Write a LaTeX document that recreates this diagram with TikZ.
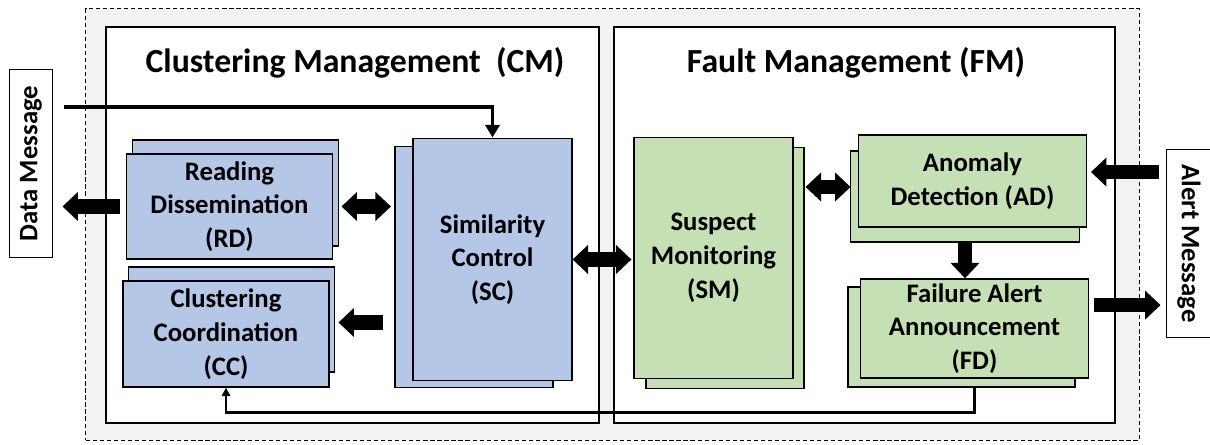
\documentclass[tikz,border=0pt]{standalone}
\usepackage{fontspec}
\setmainfont{Carlito}
\usetikzlibrary{arrows.meta}
\definecolor{cmfill}{HTML}{B4C7E7}
\definecolor{fmfill}{HTML}{C5E0B4}
\definecolor{bggray}{HTML}{F2F2F2}
\def\px{0.7087pt}
\begin{document}
\begin{tikzpicture}[x=0.025cm,y=-0.025cm,
    frame/.style={draw,line width=1.3pt,fill=white},
    card/.style={draw,line width=1.2pt,align=center,inner sep=0pt,font=\fontsize{19}{24}\selectfont\bfseries},
    cmcard/.style={card,fill=cmfill},
    fmcard/.style={card,fill=fmfill},
    title/.style={font=\fontsize{24}{28}\selectfont\bfseries},
    msg/.style={draw,line width=0.8pt,fill=white,inner sep=0pt,minimum width=44*\px,minimum height=189*\px,font=\fontsize{19}{23}\selectfont\bfseries},
    fat/.style={line width=10pt,-{Triangle[length=11pt,width=20pt]}},
    fatboth/.style={line width=10pt,{Triangle[length=11pt,width=20pt]}-{Triangle[length=11pt,width=20pt]}},
    datain/.style={line width=2.8pt,-{Triangle[length=9pt,width=10pt]}},
    feedback/.style={line width=1.8pt,-{Triangle[length=6pt,width=6pt]}}]
\useasboundingbox (0,0) rectangle (1210,445);

% frames
\node[draw,dashed,dash pattern=on 3pt off 2pt,line width=0.7pt,fill=bggray,minimum width=1057*\px,minimum height=433*\px] (all) at (612.5,224.5) {};
\node[frame,minimum width=495*\px,minimum height=398*\px] (cm) at (352.5,225) {};
\node[frame,minimum width=503*\px,minimum height=398*\px] (fm) at (864.5,225) {};
\node[title] (cmtitle) at (355,63) {Clustering Management\ \ (CM)};
\node[title] (fmtitle) at (856,63) {Fault Management (FM)};

% messages
\node[msg] (dm) at (31,163.5) {\rotatebox{90}{Data Message}};
\node[msg,minimum width=46*\px] (am) at (1189,243.5) {\rotatebox{-90}{Alert Message}};

% clustering management
\node[cmcard,minimum width=207*\px,minimum height=106*\px] (rdb) at (235.5,193) {};
\node[cmcard,minimum width=207*\px,minimum height=105*\px] (rdf) at (229.5,206.5) {Reading\\Dissemination\\(RD)};
\node[cmcard,minimum width=207*\px,minimum height=105*\px] (ccb) at (231.5,319.5) {};
\node[cmcard,minimum width=207*\px,minimum height=106*\px] (ccf) at (226,334) {Clustering\\Coordination\\(CC)};
\node[cmcard,minimum width=159*\px,minimum height=242*\px] (scb) at (474,267) {};
\node[cmcard,minimum width=159*\px,minimum height=243*\px] (scf) at (492.5,259.5) {Similarity\\Control\\(SC)};

% fault management
\node[fmcard,minimum width=158*\px,minimum height=242*\px] (smb) at (725,268) {};
\node[fmcard,minimum width=159*\px,minimum height=242*\px] (smf) at (713.5,258) {Suspect\\Monitoring\\(SM)};
\node[fmcard,minimum width=230*\px,minimum height=91*\px] (adb) at (965,196.5) {};
\node[fmcard,minimum width=229*\px,minimum height=92*\px] (adf) at (972.5,181) {Anomaly\\Detection (AD)};
\node[fmcard,minimum width=228*\px,minimum height=100*\px] (fdb) at (961.5,337) {};
\node[fmcard,minimum width=229*\px,minimum height=99*\px] (fdf) at (974.5,328.5) {Failure Alert\\Announcement\\(FD)};

% connectors
\coordinate (dmin) at (64,107);
\draw[datain] (dmin) -| (scf.north);
\draw[fat] ([xshift=-6*\px]rdf.west) -- ([xshift=9*\px]dm.east |- rdf.west);
\draw[fatboth] ([xshift=2*\px]rdb.east |- rdf.west) -- ([xshift=-3*\px]scb.west |- rdf.west);
\draw[fat] ([xshift=-11*\px,yshift=-3*\px]scb.west |- ccb.east) -- ([xshift=3*\px,yshift=-3*\px]ccb.east);
\draw[fatboth] (scf.east) -- ([xshift=-2*\px]smf.west |- scf.east);
\draw[fatboth] ([xshift=1*\px,yshift=-6*\px]smb.east |- adf.west) -- ([xshift=1*\px,yshift=-6*\px]adb.west |- adf.west);
\draw[fat] (adb.south) -- (adb.south |- fdf.north);
\draw[fat] ([xshift=-7*\px,yshift=9*\px]am.west |- adf.east) -- ([xshift=3.5*\px,yshift=9*\px]adf.east);
\draw[fat] ([xshift=5*\px,yshift=23.5*\px]fdf.east) -- ([xshift=-5*\px,yshift=23.5*\px]am.west |- fdf.east);
\draw[feedback] (fdf.south |- fdb.south) -- ++(0,25) -| (ccf.south);
\end{tikzpicture}
\end{document}
